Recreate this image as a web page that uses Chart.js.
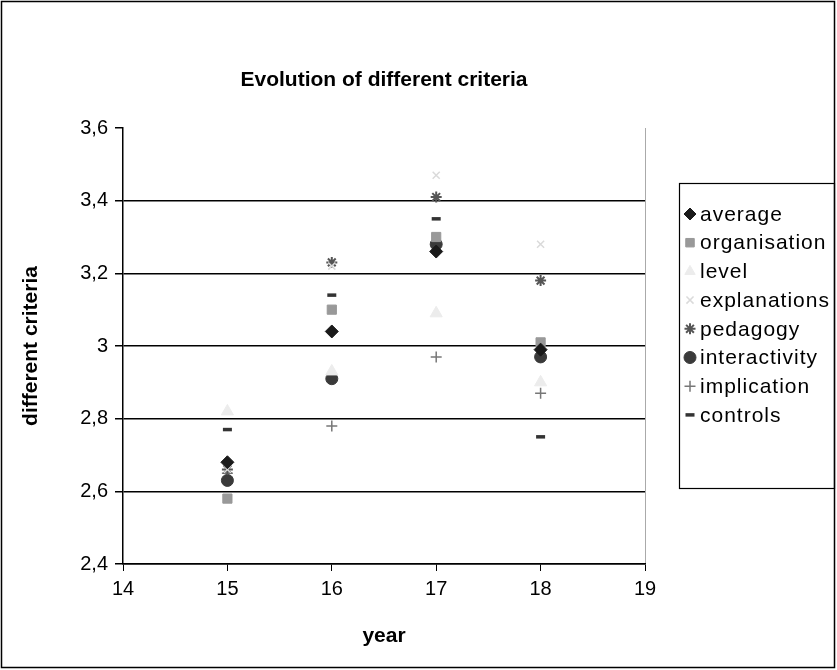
<!DOCTYPE html>
<html>
<head>
<meta charset="utf-8">
<script src="https://cdn.jsdelivr.net/npm/chart.js@4/dist/chart.umd.min.js"></script>
<style>
  html, body { margin: 0; padding: 0; background: #fff; }
  #wrap { width: 837px; height: 670px; }
</style>
</head>
<body>
<div id="wrap"><canvas id="grafico" width="837" height="670"></canvas></div>
<script>
// valores
const anios = [15, 16, 17, 18];
const average = [2.68, 3.04, 3.26, 2.99];
const organisation = [2.58, 3.10, 3.30, 3.01];
const level = [2.82, 2.93, 3.09, 2.90];
const explanations = [2.66, 3.22, 3.47, 3.28];
const pedagogy = [2.66, 3.23, 3.41, 3.18];
const interactivity = [2.63, 2.91, 3.28, 2.97];
const implication = [2.65, 2.78, 2.97, 2.87];
const controls = [2.77, 3.14, 3.35, 2.75];

const TITULO = 'Evolution of different criteria';
const FUENTE = "Arial, 'Liberation Sans', sans-serif";

function serie(label, valores, estilo, relleno, borde, radio, grosor) {
  return {
    label,
    data: anios.map((x, i) => ({ x, y: valores[i] })),
    pointStyle: estilo,
    backgroundColor: relleno,
    borderColor: borde,
    pointRadius: radio,
    pointHoverRadius: radio,
    pointBorderWidth: grosor
  };
}

const datasets = [
  serie('average', average, 'rectRot', '#1a1a1a', '#1a1a1a', 6.5, 1),
  serie('organisation', organisation, 'rect', '#999999', '#999999', 6.5, 1),
  serie('level', level, 'triangle', '#ececec', '#ececec', 7, 1),
  serie('explanations', explanations, 'crossRot', '#dadada', '#dadada', 5, 1.5),
  serie('pedagogy', pedagogy, 'star', '#555555', '#555555', 5.5, 2),
  serie('interactivity', interactivity, 'circle', '#3a3a3a', '#3a3a3a', 6, 1),
  serie('implication', implication, 'cross', '#777777', '#777777', 5.5, 1.5),
  serie('controls', controls, 'line', '#333333', '#333333', 4.5, 3.5)
];

// titulo, marco exterior y leyenda con borde
const marcoYLeyenda = {
  id: 'marcoYLeyenda',
  afterDraw(chart) {
    const ctx = chart.ctx;
    const area = chart.chartArea;
    ctx.save();
    ctx.fillStyle = '#000';
    ctx.font = 'bold 21px ' + FUENTE;
    ctx.textAlign = 'center';
    ctx.textBaseline = 'middle';
    ctx.fillText(TITULO, (area.left + area.right) / 2, 80);

    ctx.strokeStyle = '#000';
    ctx.lineWidth = 1.5;
    ctx.strokeRect(1.5, 1.5, 833, 666);

    ctx.lineWidth = 1.2;
    ctx.strokeRect(679.5, 183.5, 155, 305);

    ctx.font = '21px ' + FUENTE;
    ctx.textAlign = 'left';
    chart.data.datasets.forEach((ds, i) => {
      const y = 214 + i * 28.7;
      ctx.fillStyle = ds.backgroundColor;
      ctx.strokeStyle = ds.borderColor;
      ctx.lineWidth = ds.pointBorderWidth;
      Chart.helpers.drawPoint(ctx, {
        pointStyle: ds.pointStyle,
        radius: Math.min(ds.pointRadius, 6),
        borderWidth: ds.pointBorderWidth,
        rotation: 0
      }, 690, y);
      ctx.fillStyle = '#000';
      if ('letterSpacing' in ctx) ctx.letterSpacing = '1px';
      ctx.fillText(ds.label, 700, y + 1);
      if ('letterSpacing' in ctx) ctx.letterSpacing = '0px';
    });
    ctx.restore();
  }
};

new Chart(document.getElementById('grafico'), {
  type: 'scatter',
  data: { datasets },
  plugins: [marcoYLeyenda],
  options: {
    responsive: false,
    animation: false,
    layout: { padding: { left: 0, right: 192, top: 128, bottom: 0 } },
    plugins: {
      legend: { display: false },
      tooltip: { enabled: false },
      title: { display: false }
    },
    scales: {
      x: {
        type: 'linear',
        min: 14,
        max: 19,
        afterFit: s => { s.height = 106; },
        ticks: {
          stepSize: 1,
          color: '#000',
          padding: 6,
          font: { family: FUENTE, size: 20 }
        },
        grid: {
          drawOnChartArea: true,
          color: c => (c.tick && c.tick.value === 19) ? '#aaaaaa' : 'rgba(0,0,0,0)',
          tickColor: '#000',
          tickLength: 7,
          lineWidth: 1
        },
        border: { display: true, color: '#000', width: 1.5 },
        title: {
          display: true,
          text: 'year',
          color: '#000',
          font: { family: FUENTE, size: 21, weight: 'bold' },
          padding: { top: 0, bottom: 21 }
        }
      },
      y: {
        min: 2.4,
        max: 3.6,
        afterFit: s => { s.width = 123; },
        ticks: {
          stepSize: 0.2,
          color: '#000',
          padding: 7,
          font: { family: FUENTE, size: 20 },
          callback: v => String(Math.round(v * 10) / 10).replace('.', ',')
        },
        grid: {
          color: c => (c.tick && c.tick.value > 3.59) ? 'rgba(0,0,0,0)' : '#000',
          tickColor: '#000',
          tickLength: 8,
          lineWidth: 1.5
        },
        border: { display: true, color: '#000', width: 1.5 },
        title: {
          display: true,
          text: 'different criteria',
          color: '#000',
          font: { family: FUENTE, size: 21, weight: 'bold' },
          padding: { top: 19, bottom: 0 }
        }
      }
    }
  }
});
</script>
</body>
</html>
